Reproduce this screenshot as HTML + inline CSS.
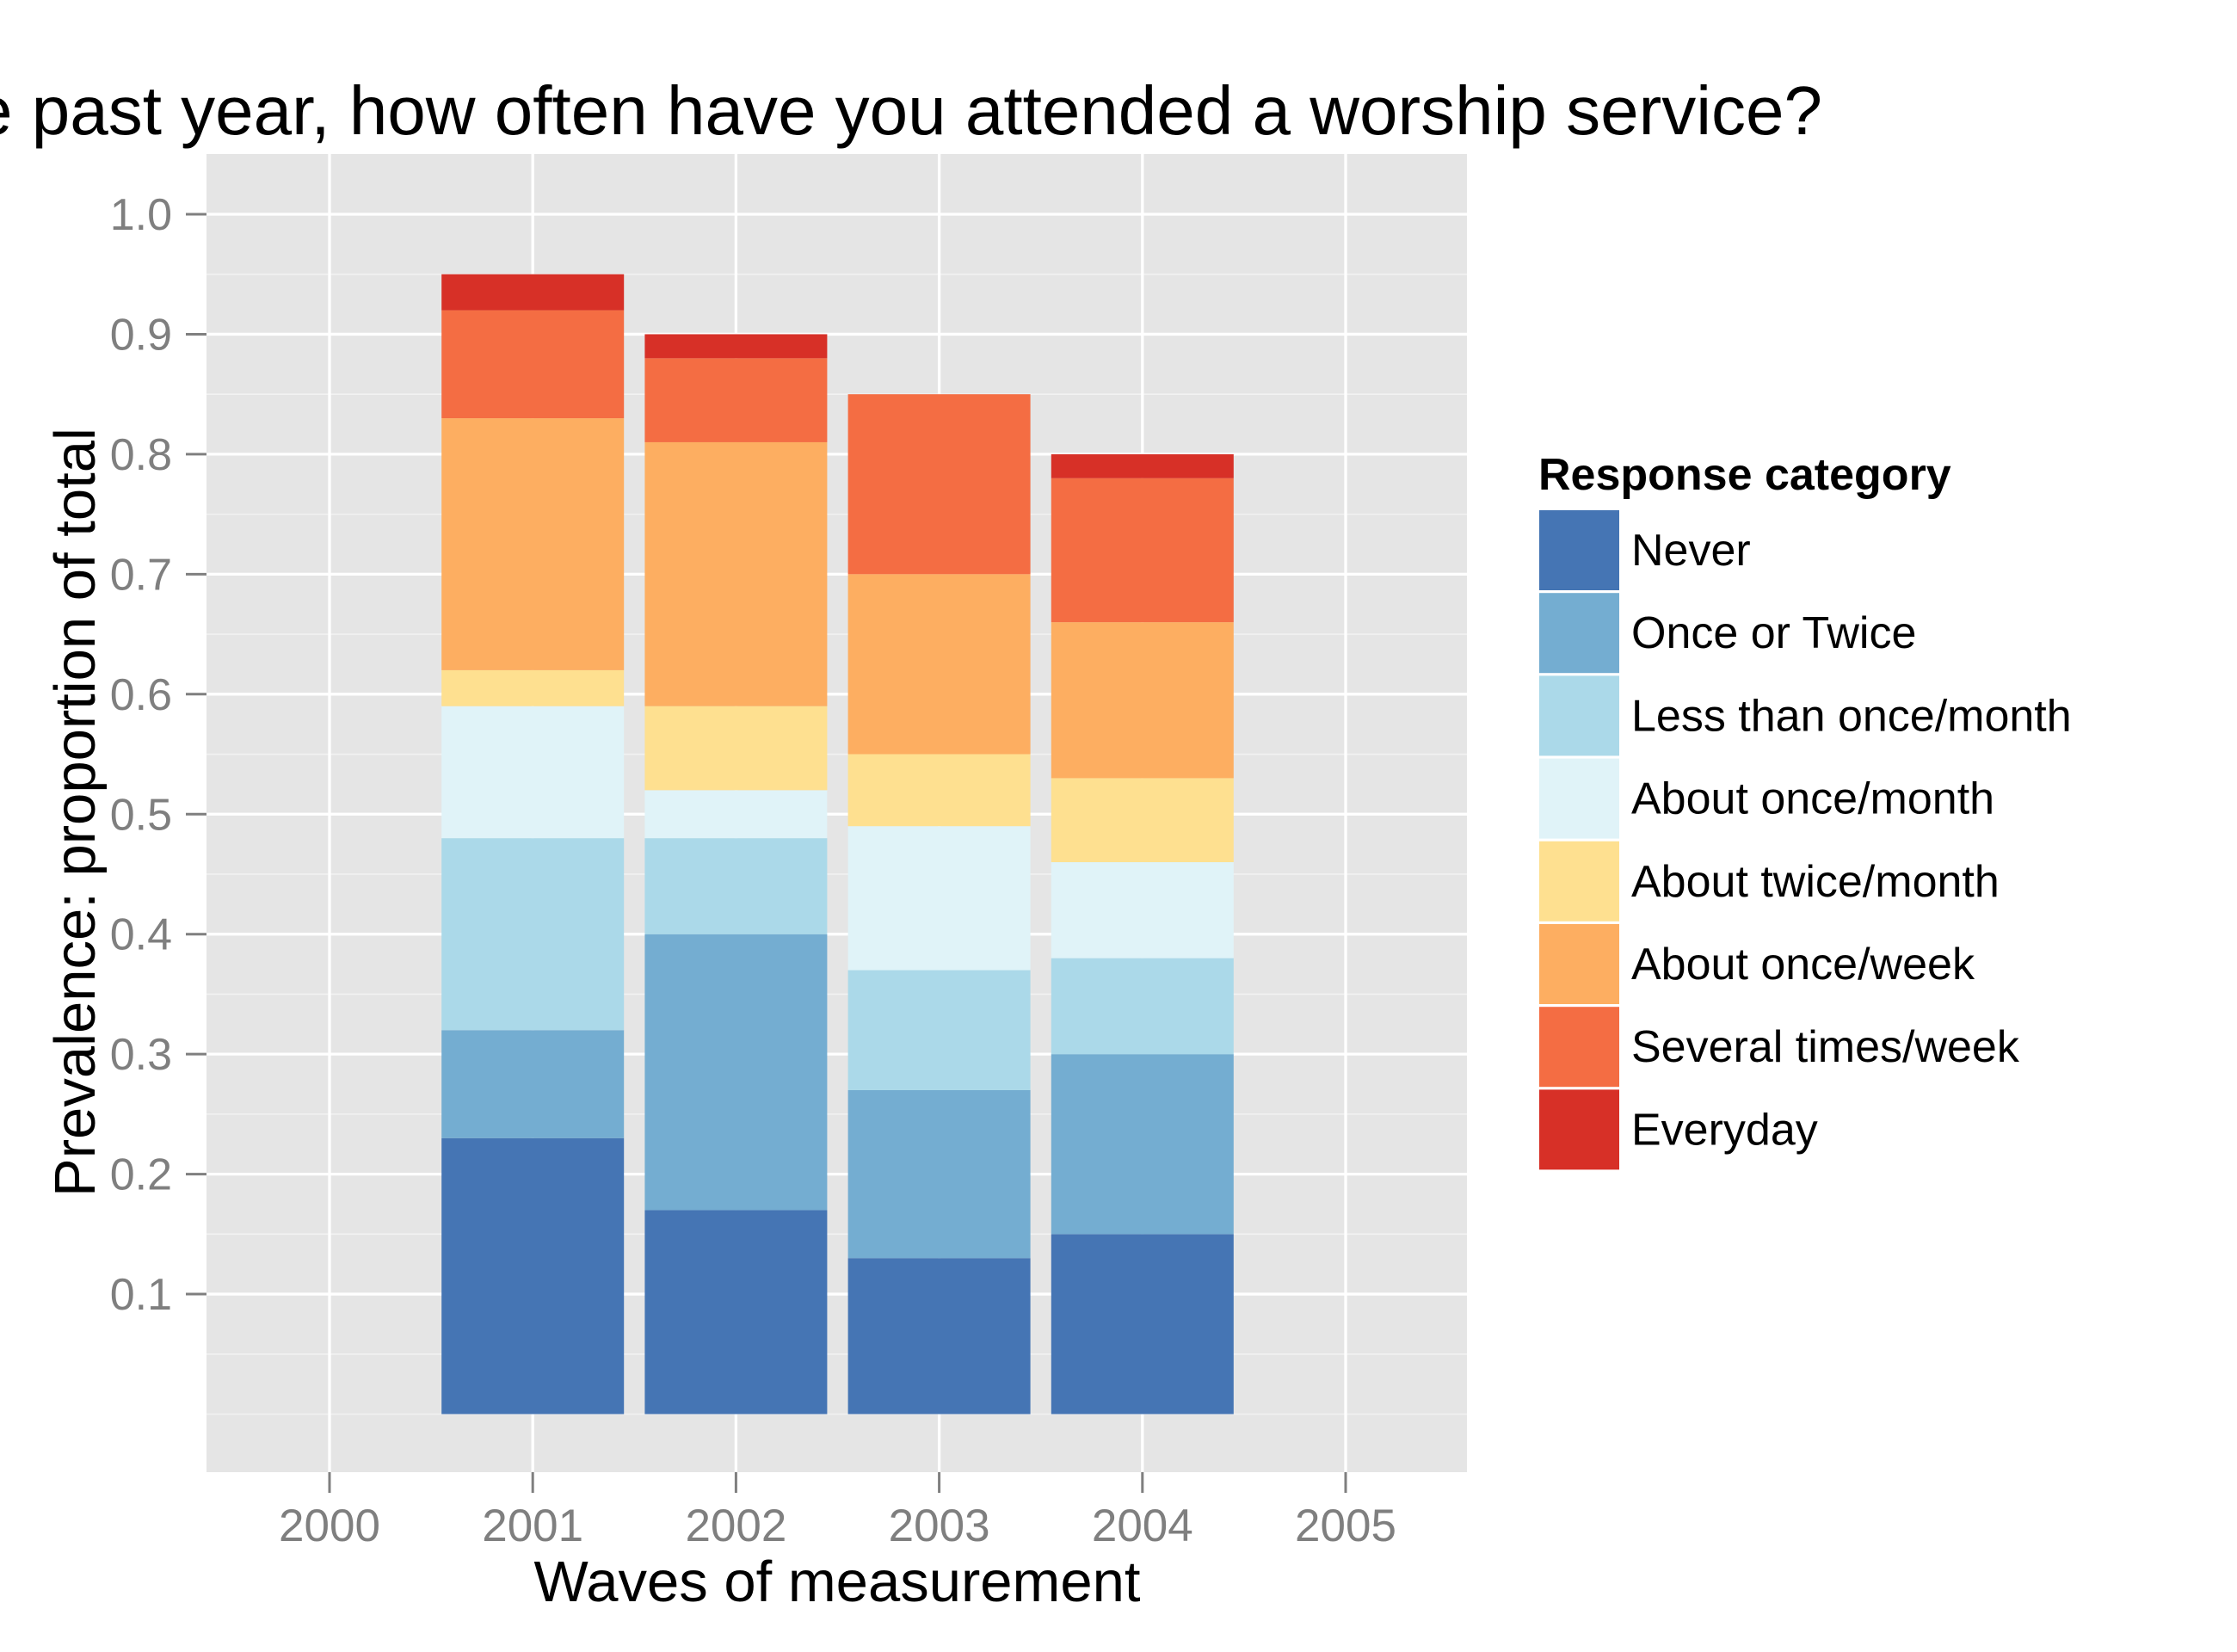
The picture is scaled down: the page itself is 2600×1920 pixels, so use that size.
<!DOCTYPE html>
<html><head><meta charset="utf-8"><style>
body{margin:0;background:#fff;}
svg{display:block;font-family:"Liberation Sans",Arial,sans-serif;}
</style></head><body>
<svg id="chart" width="2600" height="1920" viewBox="0 0 2600 1920"></svg>
<script>
const years = [2001, 2002, 2003, 2004];
const categories = ["Never","Once or Twice","Less than once/month","About once/month","About twice/month","About once/week","Several times/week","Everyday"];
const colors = ["#4575b4","#74add1","#abd9e9","#e0f3f8","#fee090","#fdae61","#f46d43","#d73027"];
const v2001 = [0.23,0.09,0.16,0.11,0.03,0.21,0.09,0.03];
const v2002 = [0.17,0.23,0.08,0.04,0.07,0.22,0.07,0.02];
const v2003 = [0.13,0.14,0.10,0.12,0.06,0.15,0.15,0.00];
const v2004 = [0.15,0.15,0.08,0.08,0.07,0.13,0.12,0.02];
const seriesByYear = [v2001, v2002, v2003, v2004];
const yTicks = [0.1,0.2,0.3,0.4,0.5,0.6,0.7,0.8,0.9,1.0];
const yTickLabels = ["0.1","0.2","0.3","0.4","0.5","0.6","0.7","0.8","0.9","1.0"];
const xTicks = [2000,2001,2002,2003,2004,2005];

const NS="http://www.w3.org/2000/svg";
const svg=document.getElementById('chart');
function el(tag,attrs,parent){const e=document.createElementNS(NS,tag);for(const k in attrs)e.setAttribute(k,attrs[k]);(parent||svg).appendChild(e);return e;}
const P={x0:240,x1:1705,y0:179,y1:1711};
const yS=v=>1643.5-v*1394.5;
const xS=yr=>383+(yr-2000)*236.2;
const bw=212;

const panel=el('rect',{x:P.x0,y:P.y0,width:P.x1-P.x0,height:P.y1-P.y0,fill:'#e5e5e5'});


for(let i=0;i<yTicks.length;i++){
  const m=yTicks[i]-0.05;
  const g=el('line',{x1:P.x0,x2:P.x1,y1:yS(m),y2:yS(m),stroke:'#f2f2f2','stroke-width':1.6});
  
  
}
{const g=el('line',{x1:P.x0,x2:P.x1,y1:yS(0),y2:yS(0),stroke:'#f2f2f2','stroke-width':1.6});

}
yTicks.forEach((t,i)=>{
  const g=el('line',{x1:P.x0,x2:P.x1,y1:yS(t),y2:yS(t),stroke:'#fff','stroke-width':3.3});
  
  
  const tk=el('line',{x1:P.x0-24,x2:P.x0,y1:yS(t),y2:yS(t),stroke:'#7f7f7f','stroke-width':3});
  
  
  const tx=el('text',{x:P.x0-40,y:yS(t)+18,'text-anchor':'end','font-size':52,fill:'#7f7f7f'});
  tx.textContent=yTickLabels[i];
  
  
});
xTicks.forEach(t=>{
  const g=el('line',{x1:xS(t),x2:xS(t),y1:P.y0,y2:P.y1,stroke:'#fff','stroke-width':3.3});
  
  
  const tk=el('line',{x1:xS(t),x2:xS(t),y1:P.y1,y2:P.y1+24,stroke:'#7f7f7f','stroke-width':3});
  
  
  const tx=el('text',{x:xS(t),y:1791,'text-anchor':'middle','font-size':53,fill:'#7f7f7f'});
  tx.textContent=String(t);
  
  
});
years.forEach((yr,i)=>{
  let cum=0;
  seriesByYear[i].forEach((v,j)=>{
    if(v>0){
      const r=el('rect',{x:xS(yr)-bw/2,y:yS(cum+v),width:bw,height:yS(cum)-yS(cum+v),fill:colors[j]});
      
      
    }
    cum+=v;
  });
});
const title=el('text',{x:2118,y:156,'text-anchor':'end','font-size':80,fill:'#000'});
title.textContent='In the past year, how often have you attended a worship service?';


const xt=el('text',{x:973,y:1861,'text-anchor':'middle','font-size':67,fill:'#000'});
xt.textContent='Waves of measurement';


const yt=el('text',{x:0,y:0,'text-anchor':'middle','font-size':67,fill:'#000',transform:'translate(110,944) rotate(-90)'});
yt.textContent='Prevalence: proportion of total';


const lt=el('text',{x:1788,y:569,'font-size':52,'font-weight':'bold',fill:'#000'});
lt.textContent='Response category';


categories.forEach((c,i)=>{
  const y=592+i*96.2;
  const k=el('rect',{x:1788,y:y,width:95,height:95,fill:colors[i],stroke:'#fff','stroke-width':2});
  
  
  const t=el('text',{x:1896,y:y+65,'font-size':52,fill:'#000'});
  t.textContent=c;
  
  
});
</script>
</body></html>
